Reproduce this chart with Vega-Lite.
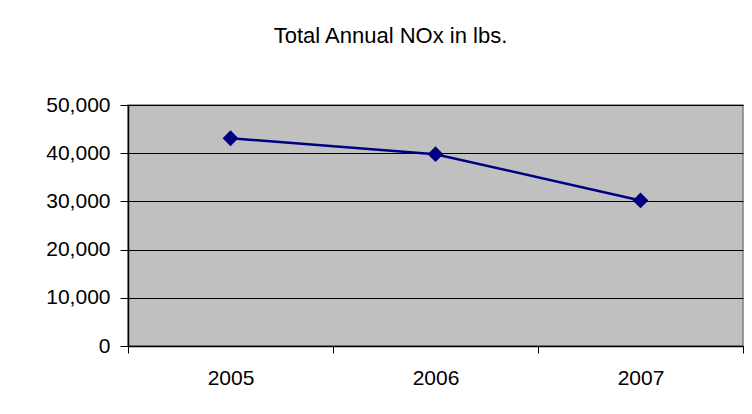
{
  "$schema": "https://vega.github.io/schema/vega-lite/v6.json",
  "width": 615,
  "height": 241,
  "autosize": {"type": "none"},
  "padding": {"left": 128, "top": 105, "right": 9, "bottom": 68},
  "background": "white",
  "title": {
    "text": "Total Annual NOx in lbs.",
    "font": "Liberation Sans",
    "fontSize": 22,
    "fontWeight": "normal",
    "color": "black",
    "anchor": "middle",
    "dx": -45,
    "baseline": "alphabetic",
    "offset": 29
  },
  "config": {
    "view": {"fill": "#C0C0C0", "stroke": "#808080", "strokeWidth": 1.5},
    "axis": {"labelFont": "Liberation Sans", "labelFontSize": 21, "labelColor": "black"}
  },
  "data": {
    "values": [
      {"year": "2005", "nox": 43100},
      {"year": "2006", "nox": 39800},
      {"year": "2007", "nox": 30200}
    ]
  },
  "layer": [
    {
      "mark": {"type": "line", "color": "#000080", "strokeWidth": 2.5},
      "encoding": {
        "x": {
          "field": "year", "type": "ordinal",
          "scale": {"type": "band", "paddingInner": 0, "paddingOuter": 0},
          "axis": {
            "title": null, "labelAngle": 0, "tickBand": "extent",
            "domainColor": "black", "domainWidth": 1.5,
            "tickColor": "black", "tickSize": 7, "labelPadding": 14, "grid": false
          }
        },
        "y": {
          "field": "nox", "type": "quantitative",
          "scale": {"domain": [0, 50000]},
          "axis": {
            "title": null, "values": [0, 10000, 20000, 30000, 40000, 50000],
            "format": ",.0f", "grid": true, "gridColor": "black", "gridWidth": 1, "gridOpacity": 1,
            "domainColor": "black", "domainWidth": 1.5,
            "tickColor": "black", "tickSize": 8, "labelPadding": 10
          }
        }
      }
    },
    {
      "mark": {"type": "point", "shape": "diamond", "filled": true, "color": "#000080", "size": 250, "opacity": 1},
      "encoding": {
        "x": {"field": "year", "type": "ordinal"},
        "y": {"field": "nox", "type": "quantitative"}
      }
    }
  ]
}
